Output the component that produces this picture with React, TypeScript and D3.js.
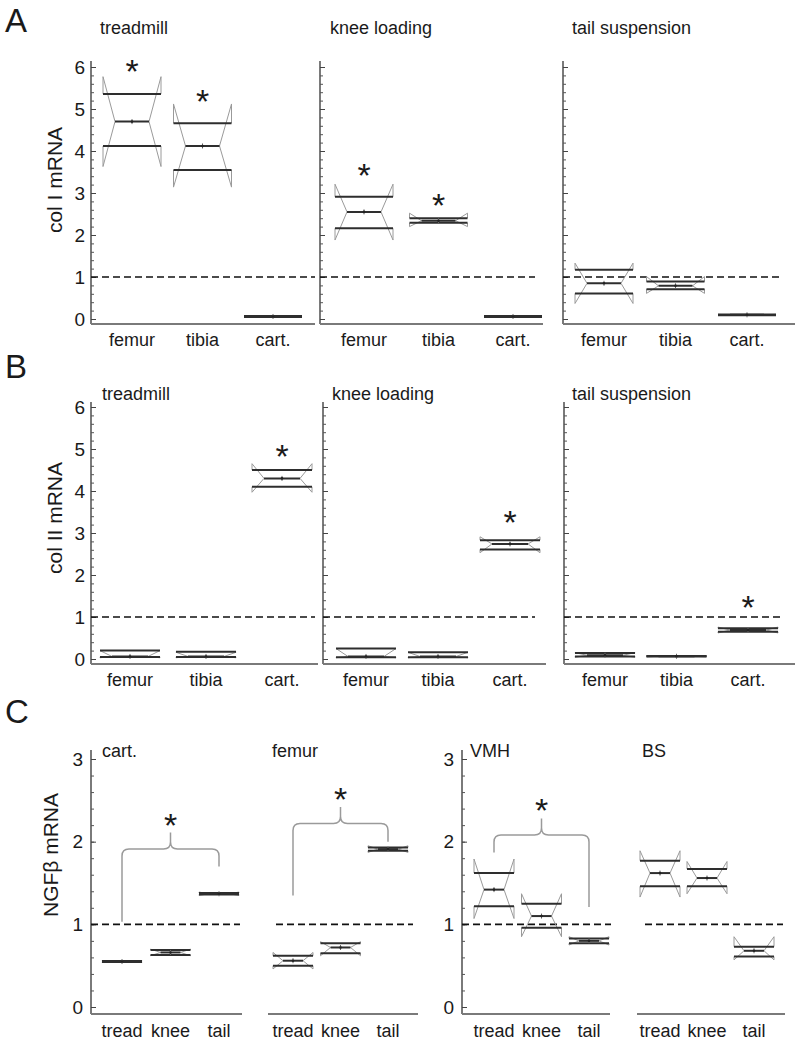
import { useEffect, useRef } from "react";
import * as d3 from "d3";

// each box: [notchLow, q1, median, q3, notchHigh]
type Box = number[];

const tissues = ["femur", "tibia", "cart."];
const loadings = ["treadmill", "knee loading", "tail suspension"];
const groupsC = ["tread", "knee", "tail"];
const tissuesC = ["cart.", "femur", "VMH", "BS"];

const ticksAB = [0, 1, 2, 3, 4, 5, 6];
const ticksC = [0, 1, 2, 3];

// col I mRNA
const colITreadmill: Box[] = [
  [3.63, 4.12, 4.7, 5.36, 5.77],
  [3.14, 3.55, 4.12, 4.66, 5.12],
  [0.05, 0.05, 0.06, 0.07, 0.07],
];
const colIKnee: Box[] = [
  [1.88, 2.16, 2.55, 2.91, 3.21],
  [2.2, 2.29, 2.34, 2.4, 2.52],
  [0.05, 0.05, 0.06, 0.07, 0.07],
];
const colITail: Box[] = [
  [0.37, 0.61, 0.85, 1.17, 1.33],
  [0.61, 0.71, 0.79, 0.89, 1.01],
  [0.09, 0.09, 0.1, 0.11, 0.11],
];
const colIStars = [
  [6.07, 5.36, null],
  [3.6, 2.88, null],
  [null, null, null],
];

// col II mRNA
const colIITreadmill: Box[] = [
  [0.03, 0.05, 0.06, 0.2, 0.2],
  [0.03, 0.05, 0.06, 0.17, 0.16],
  [3.97, 4.1, 4.3, 4.5, 4.65],
];
const colIIKnee: Box[] = [
  [0.03, 0.04, 0.06, 0.25, 0.25],
  [0.03, 0.04, 0.06, 0.16, 0.16],
  [2.53, 2.61, 2.74, 2.83, 2.91],
];
const colIITail: Box[] = [
  [0.04, 0.06, 0.09, 0.14, 0.15],
  [0.05, 0.06, 0.065, 0.07, 0.08],
  [0.62, 0.65, 0.69, 0.73, 0.76],
];
const colIIStars = [
  [null, null, 5.0],
  [null, null, 3.43],
  [null, null, 1.4],
];

// NGFβ mRNA
const ngfCart: Box[] = [
  [0.54, 0.545, 0.55, 0.555, 0.56],
  [0.62, 0.63, 0.66, 0.69, 0.7],
  [1.35, 1.36, 1.37, 1.38, 1.39],
];
const ngfFemur: Box[] = [
  [0.46, 0.5, 0.56, 0.62, 0.66],
  [0.62, 0.65, 0.72, 0.77, 0.79],
  [1.87, 1.89, 1.91, 1.93, 1.95],
];
const ngfVMH: Box[] = [
  [1.07, 1.22, 1.42, 1.62, 1.79],
  [0.85, 0.96, 1.1, 1.25, 1.37],
  [0.75, 0.77, 0.8, 0.83, 0.85],
];
const ngfBS: Box[] = [
  [1.33, 1.46, 1.62, 1.77, 1.89],
  [1.37, 1.46, 1.56, 1.67, 1.76],
  [0.57, 0.61, 0.68, 0.73, 0.85],
];
// brace over tread..tail: left foot, bar, peak, right foot, star
const braceLeft = [1.03, 1.35, 1.87, null];
const braceBar = [1.91, 2.22, 2.08, null];
const bracePeak = [2.11, 2.42, 2.28, null];
const braceRight = [1.7, 2.0, 1.21, null];
const braceStar = [2.29, 2.6, 2.47, null];

const FONT = "'Liberation Sans', Arial, Helvetica, sans-serif";

interface Sub {
  axis: number;
  end: number;
  c0: number;
  c2: number;
  dash: [number, number];
  title: number;
  yAxis: boolean;
  labels: boolean;
}

interface Row {
  letter: string;
  letterY: number;
  y0: number;
  yTop: number;
  max: number;
  ticks: number[];
  baseOff: number;
  axisTop: number;
  titleY: number;
  labelY: number;
  yLabel: string;
  yLabelPos: [number, number];
  boxW: number;
  notch: number;
  cats: string[];
  titles: string[];
  subs: Sub[];
  data: Box[][];
  stars: (number | null)[][];
  labelEnd: number;
}

const App = () => {
  const svgRef = useRef<SVGSVGElement | null>(null);

  useEffect(() => {
    if (!svgRef.current) return;
    const svg = d3.select(svgRef.current);
    svg.selectAll("*").remove();

    const text = (x: number, y: number, s: string, size: number, anchor = "start") =>
      svg
        .append("text")
        .attr("x", x)
        .attr("y", y)
        .attr("font-family", FONT)
        .attr("font-size", size)
        .attr("fill", "#1a1a1a")
        .attr("text-anchor", anchor)
        .text(s);

    const drawBox = (cx: number, w: number, n: number, b: Box, y: d3.ScaleLinear<number, number>) => {
      const [nLo, q1, med, q3, nHi] = b;
      const x0 = cx - w / 2;
      const x1 = cx + w / 2;
      const side = (xe: number, dir: number) =>
        `M${xe},${y(q3)}L${xe},${y(nHi)}L${xe + dir * n},${y(med)}L${xe},${y(nLo)}L${xe},${y(q1)}`;
      svg
        .append("path")
        .attr("d", side(x0, 1) + side(x1, -1))
        .attr("fill", "none")
        .attr("stroke", "#9a9a9a")
        .attr("stroke-width", 1);
      const hl = (xa: number, xb: number, v: number) =>
        svg
          .append("line")
          .attr("x1", xa)
          .attr("x2", xb)
          .attr("y1", y(v))
          .attr("y2", y(v))
          .attr("stroke", "#2e2e2e")
          .attr("stroke-width", 2);
      hl(x0, x1, q3);
      hl(x0, x1, q1);
      hl(x0 + n, x1 - n, med);
      svg
        .append("line")
        .attr("x1", cx)
        .attr("x2", cx)
        .attr("y1", y(med) - 2.5)
        .attr("y2", y(med) + 2.5)
        .attr("stroke", "#666")
        .attr("stroke-width", 1);
      svg.append("circle").attr("cx", cx).attr("cy", y(med)).attr("r", 1.3).attr("fill", "#222");
    };

    const star = (x: number, yc: number) => text(x, yc + 19, "*", 34, "middle");

    const drawRow = (row: Row) => {
      const y = d3.scaleLinear().domain([0, row.max]).range([row.y0, row.yTop]);
      text(5, row.letterY, row.letter, 33);
      svg
        .append("text")
        .attr("transform", `translate(${row.yLabelPos[0]},${row.yLabelPos[1]}) rotate(-90)`)
        .attr("font-family", FONT)
        .attr("font-size", 21)
        .attr("fill", "#1a1a1a")
        .attr("text-anchor", "middle")
        .text(row.yLabel);

      const minor = d3.ticks(0, row.max, row.max * 5);
      const base = row.y0 + row.baseOff;

      row.subs.forEach((s, si) => {
        const x = d3.scalePoint<string>().domain(row.cats).range([s.c0, s.c2]);
        text(s.title, row.titleY, row.titles[si], 18);

        // baseline
        svg
          .append("line")
          .attr("x1", s.axis)
          .attr("x2", s.end)
          .attr("y1", base)
          .attr("y2", base)
          .attr("stroke", "#7a7a7a")
          .attr("stroke-width", 2);

        if (s.yAxis) {
          svg
            .append("line")
            .attr("x1", s.axis)
            .attr("x2", s.axis)
            .attr("y1", base)
            .attr("y2", row.axisTop)
            .attr("stroke", "#7a7a7a")
            .attr("stroke-width", 2);
          const gMinor = svg
            .append("g")
            .attr("transform", `translate(${s.axis},0)`)
            .call(d3.axisRight(y).tickValues(minor).tickSize(3).tickSizeOuter(0).tickFormat(() => ""));
          gMinor.select(".domain").remove();
          gMinor.selectAll("line").attr("stroke", "#555");
          const gMajor = svg
            .append("g")
            .attr("transform", `translate(${s.axis},0)`)
            .call(d3.axisRight(y).tickValues(row.ticks).tickSize(5).tickSizeOuter(0).tickFormat(() => ""));
          gMajor.select(".domain").remove();
          gMajor.selectAll("line").attr("stroke", "#444");
          if (s.labels) {
            row.ticks.forEach((t) => text(s.axis - row.labelEnd, y(t) + 6.5, String(t), 19, "end"));
          }
        }

        // reference line at 1
        svg
          .append("line")
          .attr("x1", s.dash[0])
          .attr("x2", s.dash[1])
          .attr("y1", y(1))
          .attr("y2", y(1))
          .attr("stroke", "#111")
          .attr("stroke-width", 1.6)
          .attr("stroke-dasharray", "7,4");

        row.cats.forEach((c, ci) => {
          const cx = x(c)!;
          text(cx, row.labelY, c, 18, "middle");
          drawBox(cx, row.boxW, row.notch, row.data[si][ci], y);
          const st = row.stars[si]?.[ci];
          if (st != null) star(cx, y(st));
        });

        // brace (panel C)
        if (row.letter === "C" && braceBar[si] != null) {
          const xl = x(row.cats[0])!;
          const xm = x(row.cats[1])!;
          const xr = x(row.cats[2])!;
          const yb = y(braceBar[si]!);
          const r = 7;
          const d =
            `M${xl},${y(braceLeft[si]!)}L${xl},${yb + r}Q${xl},${yb} ${xl + r},${yb}` +
            `L${xm - r},${yb}Q${xm},${yb} ${xm},${yb - r}L${xm},${y(bracePeak[si]!)}` +
            `M${xm},${yb - r}Q${xm},${yb} ${xm + r},${yb}` +
            `L${xr - r},${yb}Q${xr},${yb} ${xr},${yb + r}L${xr},${y(braceRight[si]!)}`;
          svg
            .append("path")
            .attr("d", d)
            .attr("fill", "none")
            .attr("stroke", "#9a9a9a")
            .attr("stroke-width", 1.5);
          star(xm, y(braceStar[si]!));
        }
      });
    };

    drawRow({
      letter: "A",
      letterY: 32,
      y0: 319,
      yTop: 67,
      max: 6,
      ticks: ticksAB,
      baseOff: 5,
      axisTop: 61,
      titleY: 34,
      labelY: 346,
      yLabel: "col I mRNA",
      yLabelPos: [62, 180],
      boxW: 58,
      notch: 12,
      cats: tissues,
      titles: loadings,
      labelEnd: 6,
      subs: [
        { axis: 91, end: 315, c0: 132, c2: 273, dash: [91, 315], title: 100, yAxis: true, labels: true },
        { axis: 320, end: 543, c0: 364, c2: 513, dash: [320, 535], title: 330, yAxis: true, labels: false },
        { axis: 563, end: 795, c0: 604, c2: 747, dash: [563, 781], title: 572, yAxis: true, labels: false },
      ],
      data: [colITreadmill, colIKnee, colITail],
      stars: colIStars,
    });

    drawRow({
      letter: "B",
      letterY: 378,
      y0: 659,
      yTop: 407,
      max: 6,
      ticks: ticksAB,
      baseOff: 5,
      axisTop: 402,
      titleY: 400,
      labelY: 686,
      yLabel: "col II mRNA",
      yLabelPos: [62, 518],
      boxW: 60,
      notch: 12,
      cats: tissues,
      titles: loadings,
      labelEnd: 6,
      subs: [
        { axis: 91, end: 318, c0: 130, c2: 282, dash: [91, 315], title: 102, yAxis: true, labels: true },
        { axis: 323, end: 546, c0: 366, c2: 510, dash: [323, 535], title: 332, yAxis: true, labels: false },
        { axis: 564, end: 795, c0: 605, c2: 748, dash: [564, 781], title: 572, yAxis: true, labels: false },
      ],
      data: [colIITreadmill, colIIKnee, colIITail],
      stars: colIIStars,
    });

    drawRow({
      letter: "C",
      letterY: 723,
      y0: 1007,
      yTop: 759,
      max: 3,
      ticks: ticksC,
      baseOff: 7,
      axisTop: 750,
      titleY: 757,
      labelY: 1037,
      yLabel: "NGFβ mRNA",
      yLabelPos: [58, 855],
      boxW: 40,
      notch: 10,
      cats: groupsC,
      titles: tissuesC,
      labelEnd: 8,
      subs: [
        { axis: 91, end: 242, c0: 122, c2: 219, dash: [91, 240], title: 102, yAxis: true, labels: true },
        { axis: 268, end: 418, c0: 293, c2: 388, dash: [276, 413], title: 272, yAxis: false, labels: false },
        { axis: 462, end: 610, c0: 494, c2: 589, dash: [462, 611], title: 470, yAxis: true, labels: true },
        { axis: 637, end: 785, c0: 660, c2: 754, dash: [645, 783], title: 642, yAxis: false, labels: false },
      ],
      data: [ngfCart, ngfFemur, ngfVMH, ngfBS],
      stars: [[], [], [], []],
    });
  }, []);

  return (
    <svg
      ref={svgRef}
      width={797}
      height={1040}
      style={{ position: "absolute", left: 0, top: 0, background: "#fff" }}
    />
  );
};

export default App;
